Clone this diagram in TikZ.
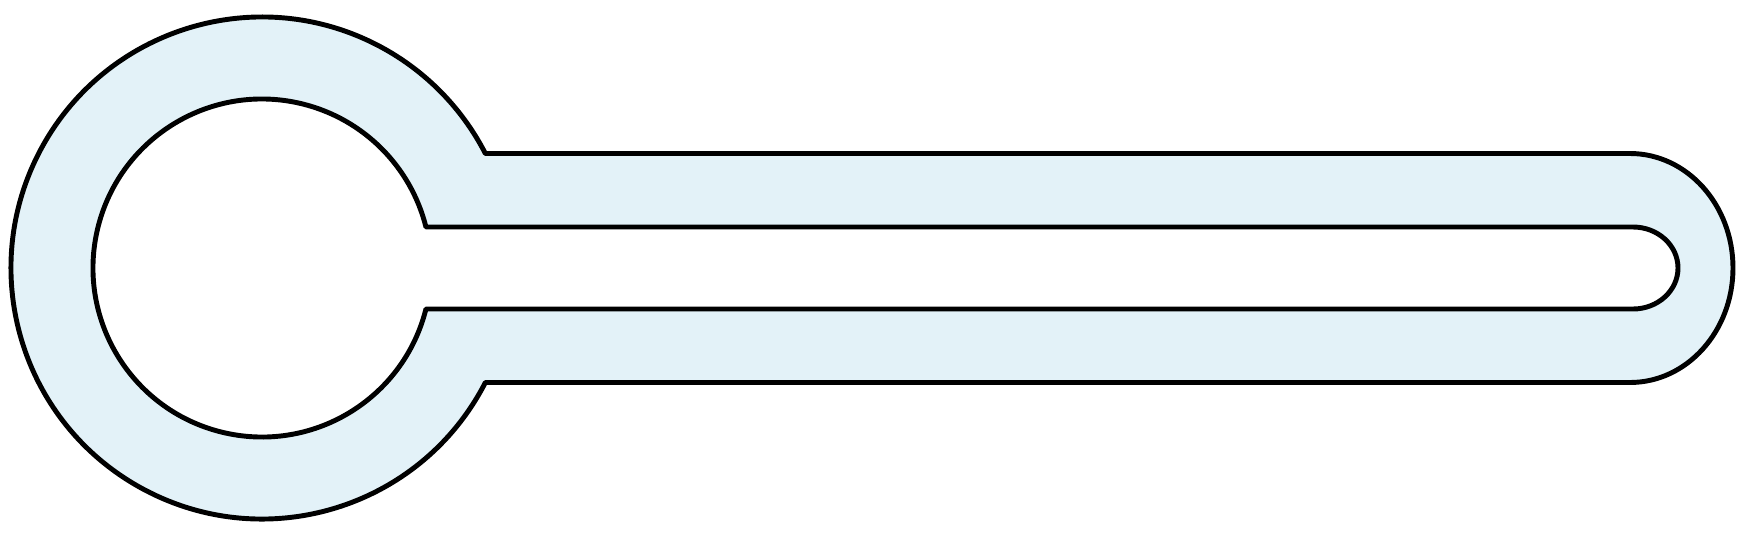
\documentclass[tikz,border=0pt]{standalone}
\usepackage{tikz}
\usetikzlibrary{calc}
\definecolor{keyblue}{RGB}{227,242,248}
\tikzset{
  keyline/.style={line width=1.4pt, line join=round, draw=black}
}
\begin{document}
\begin{tikzpicture}[x=0.1mm,y=0.1mm]
\def\cx{262} \def\cy{276}
\def\Ro{251} \def\Ri{169}
\def\Ho{114.5} \def\Hi{41}
\pgfmathsetmacro\ao{asin(\Ho/\Ro)}
\pgfmathsetmacro\ai{asin(\Hi/\Ri)}
\useasboundingbox (0,0) rectangle (1741,544);
% Outer rim and inner slot
\filldraw[keyline, fill=keyblue, even odd rule]
  ($(\cx,\cy)+(\ao:\Ro)$) -- (1630,\cy+\Ho)
    arc[start angle=90, end angle=-90, x radius=103, y radius=\Ho]
    -- ($(\cx,\cy)+(-\ao:\Ro)$)
    arc[start angle=-\ao, end angle=-360+\ao, radius=\Ro] -- cycle
  ($(\cx,\cy)+(\ai:\Ri)$) -- (1633,\cy+\Hi)
    arc[start angle=90, end angle=-90, x radius=45, y radius=\Hi]
    -- ($(\cx,\cy)+(-\ai:\Ri)$)
    arc[start angle=-\ai, end angle=-360+\ai, radius=\Ri] -- cycle;
\end{tikzpicture}
\end{document}
